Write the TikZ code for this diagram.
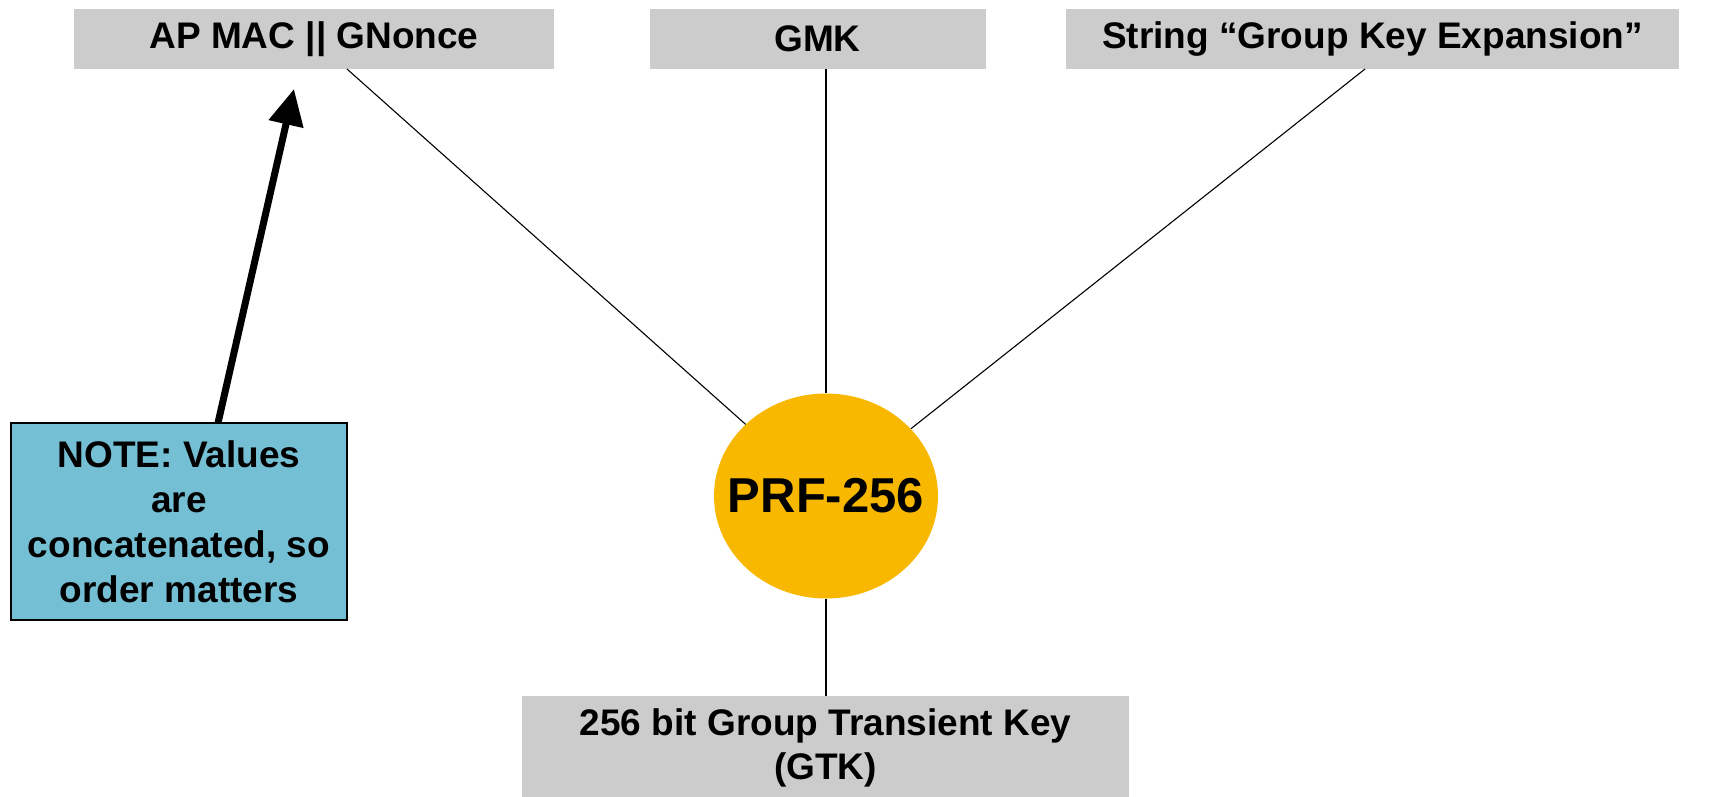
\documentclass[tikz,border=0pt]{standalone}
\usepackage{fontspec}
\setmainfont{Liberation Sans}
\usetikzlibrary{shapes.geometric,arrows.meta}
\definecolor{boxgray}{HTML}{CCCCCC}
\definecolor{notecyan}{HTML}{74BFD4}
\definecolor{prfgold}{HTML}{F8B800}
\begin{document}
\begin{tikzpicture}[x=1pt,y=-1pt,
  keybox/.style={rectangle, fill=boxgray, inner sep=0pt, align=center,
    font=\fontsize{37}{44}\selectfont\bfseries},
  notebox/.style={rectangle, fill=notecyan, draw=black, line width=1.2pt, inner sep=0pt, align=center,
    font=\fontsize{37}{45}\selectfont\bfseries},
  prfnode/.style={ellipse, fill=prfgold, inner sep=0pt},
  prftext/.style={font=\fontsize{49}{56}\selectfont\bfseries},
  link/.style={draw=black, line width=1.1pt},
  bigarrow/.style={draw=black, line width=7pt, -{Triangle[length=36pt,width=34pt]}}
]
\useasboundingbox (0,0) rectangle (1709,796);
\node[keybox, minimum width=480pt, minimum height=60pt] (b1) at (314,39) {AP MAC || GNonce};
\node[keybox, minimum width=336pt, minimum height=60pt] (gmk) at (817.5,39) {GMK};
\node[keybox, minimum width=613pt, minimum height=60pt] (str) at (1372.5,39) {String “Group Key Expansion”};
\node[keybox, minimum width=607pt, minimum height=104pt] (gtk) at (825.5,748) {256 bit Group Transient Key\\(GTK)};
\node[prfnode, minimum width=224pt, minimum height=205pt,
  label={[prftext]center:PRF-256}] (prf) at (826,496) {};
\node[notebox, minimum width=336pt, minimum height=197pt] (note) at (179,521.5) {NOTE: Values\\are\\concatenated, so\\order matters};
\coordinate (c1) at (347,69);
\coordinate (c2) at (826,69);
\coordinate (c3) at (1365,69);
\coordinate (tail) at (218,423);
\coordinate (tip) at (294,89);
\draw[link] (c1) -- (prf);
\draw[link] (c2) -- (prf);
\draw[link] (c3) -- (prf);
\draw[link] (prf) -- (prf.south |- gtk.north);
\draw[bigarrow] (tail) -- (tip);
\end{tikzpicture}
\end{document}
